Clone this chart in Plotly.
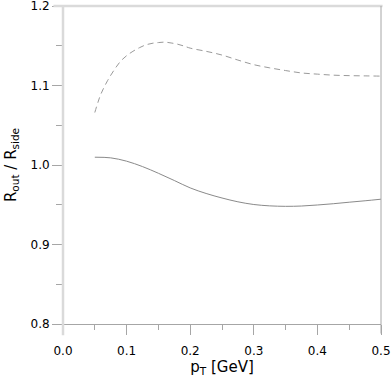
import plotly.graph_objects as go

# transverse momentum (GeV)
pt_dashed = [0.05, 0.055, 0.06, 0.07, 0.08, 0.09, 0.1, 0.11, 0.12, 0.13, 0.14, 0.15, 0.16,
             0.17, 0.18, 0.19, 0.2, 0.225, 0.25, 0.275, 0.3, 0.325, 0.35, 0.375, 0.4,
             0.425, 0.45, 0.475, 0.5]
ratio_dashed = [1.066, 1.079, 1.090, 1.106, 1.119, 1.130, 1.1375, 1.143, 1.1475, 1.151, 1.153,
                1.154, 1.1545, 1.1535, 1.152, 1.1497, 1.147, 1.143, 1.1383, 1.132, 1.1262,
                1.1222, 1.1188, 1.1158, 1.1143, 1.113, 1.1124, 1.1121, 1.1118]

pt_solid = [0.05, 0.075, 0.1, 0.125, 0.15, 0.175, 0.2, 0.225, 0.25, 0.275, 0.3, 0.325, 0.35,
            0.375, 0.4, 0.425, 0.45, 0.475, 0.5]
ratio_solid = [1.0098, 1.0090, 1.0048, 0.998, 0.9896, 0.9805, 0.9712, 0.9642, 0.9585, 0.9537,
               0.9503, 0.9486, 0.948, 0.9484, 0.9497, 0.9513, 0.9532, 0.955, 0.957]

x_ticks = [0.0, 0.1, 0.2, 0.3, 0.4, 0.5]
y_ticks = [0.8, 0.9, 1.0, 1.1, 1.2]

FONT = "DejaVu Sans"
AX = "#a6a6a6"
LIGHT = "#dadada"

fig = go.Figure()
fig.add_trace(go.Scatter(x=pt_dashed, y=ratio_dashed, mode="lines", line_shape="spline",
                         line=dict(color="#9a9a9a", width=1, dash="6px,4px"), showlegend=False))
fig.add_trace(go.Scatter(x=pt_solid, y=ratio_solid, mode="lines", line_shape="spline",
                         line=dict(color="#8a8a8a", width=1), showlegend=False))

fig.update_layout(
    width=391, height=377,
    margin=dict(l=63, r=10, t=6, b=53),
    paper_bgcolor="white", plot_bgcolor="white",
    font=dict(family=FONT, size=12, color="black"),
)
fig.update_xaxes(
    range=[0, 0.5], tickvals=x_ticks, tickformat=".1f",
    automargin=False, ticklabeloverflow="allow", ticklabelstandoff=6,
    showgrid=False, zeroline=False,
    showline=True, linecolor=AX, linewidth=1, mirror=False,
    ticks="outside", ticklen=10, tickcolor=AX, tickwidth=1,
    minor=dict(dtick=0.05, ticks="outside", ticklen=5, tickcolor=AX),
    title=dict(text="p<sub>T</sub> [GeV]", font=dict(size=15), standoff=0),
    tickfont=dict(size=12),
)
fig.update_yaxes(
    range=[0.8, 1.2], tickvals=y_ticks, tickformat=".1f",
    automargin=False, ticklabeloverflow="allow",
    showgrid=False, zeroline=False,
    showline=False,
    ticks="outside", ticklen=10, tickcolor=AX, tickwidth=1,
    minor=dict(dtick=0.05, ticks="outside", ticklen=6, tickcolor=AX),
    title=dict(text="R<sub>out</sub> / R<sub>side</sub>", font=dict(size=15), standoff=10),
    tickfont=dict(size=12),
)
# frame lines
fig.add_shape(type="line", xref="paper", yref="paper", x0=0, x1=0, y0=-0.035, y1=1,
              line=dict(color=LIGHT, width=2.5))
fig.add_shape(type="line", xref="paper", yref="paper", x0=-0.03, x1=1.005, y0=1, y1=1,
              line=dict(color=LIGHT, width=2.5))
fig.add_shape(type="line", xref="paper", yref="paper", x0=1, x1=1, y0=-0.03, y1=1,
              line=dict(color=AX, width=1))

fig.write_html("out.html", config={"displayModeBar": False},
               post_script="document.body.style.margin='0';")
